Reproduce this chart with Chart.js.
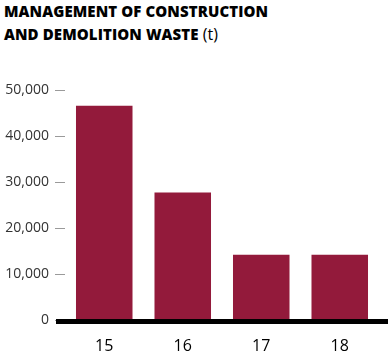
<!DOCTYPE html>
<html lang="en">
  <head>
    <meta charset="UTF-8" />
    <title>Construction and demolition waste</title>
    <script src="https://cdn.jsdelivr.net/npm/chart.js@4.4.1/dist/chart.umd.min.js"></script>
    <style>
      body {
        margin: 0;
        background: #fff;
      }
      #wrap {
        position: relative;
        width: 392px;
        height: 353px;
      }
      #title {
        position: absolute;
        left: 4px;
        top: 0px;
        font-family: "Open Sans", sans-serif;
        font-weight: 800;
        font-size: 15px;
        line-height: 23px;
        color: #000;
        letter-spacing: 0.1px;
      }
      #title span {
        font-weight: 400;
        font-size: 16px;
      }
      canvas {
        position: absolute;
        left: 0;
        top: 0;
      }
    </style>
  </head>
  <body>
    <div id="wrap">
      <div id="title">MANAGEMENT OF CONSTRUCTION<br />AND DEMOLITION WASTE <span>(t)</span></div>
      <canvas id="chart" width="392" height="353"></canvas>
    </div>
    <script>
      const years = ["15", "16", "17", "18"];
      const tonnes = [46600, 27700, 14200, 14200];
      const yTicks = [0, 10000, 20000, 30000, 40000, 50000];

      // thick black baseline that runs past the plot on both sides
      const baseline = {
        id: "baseline",
        afterDatasetsDraw(chart) {
          const c = chart.ctx;
          const y = chart.scales.y.getPixelForValue(0);
          c.save();
          c.fillStyle = "#000";
          c.fillRect(56, Math.round(y) - 1, 332, 5);
          c.restore();
        },
      };

      new Chart(document.getElementById("chart"), {
        type: "bar",
        data: {
          labels: years,
          datasets: [
            {
              data: tonnes,
              backgroundColor: "#931a3b",
              categoryPercentage: 0.72,
              barPercentage: 1,
            },
          ],
        },
        options: {
          responsive: false,
          animation: false,
          layout: { padding: { top: 90, right: 13, bottom: 0, left: 0 } },
          plugins: { legend: { display: false }, tooltip: { enabled: false } },
          scales: {
            x: {
              grid: { display: false },
              border: { display: false },
              ticks: {
                color: "#000",
                padding: 9,
                font: { family: "Open Sans", size: 16 },
              },
              afterFit: s => (s.height = 33),
            },
            y: {
              min: 0,
              max: 50000,
              afterBuildTicks: s => (s.ticks = yTicks.map(v => ({ value: v }))),
              grid: {
                drawOnChartArea: false,
                drawTicks: true,
                tickLength: 10,
                color: "#9a9a9a",
              },
              border: { display: false },
              ticks: {
                color: "#333",
                padding: 6,
                font: { family: "Open Sans", size: 14 },
                callback: v => v.toLocaleString("en-US"),
              },
              afterFit: s => (s.width = 65),
            },
          },
        },
        plugins: [baseline],
      });
    </script>
  </body>
</html>
